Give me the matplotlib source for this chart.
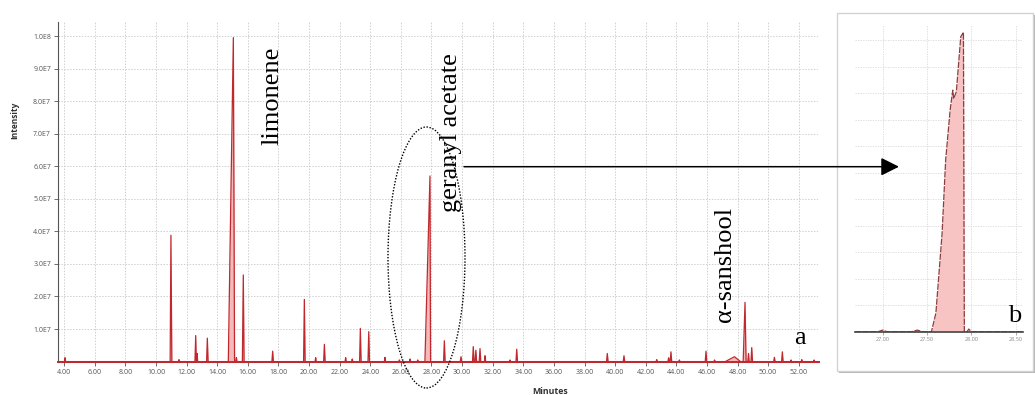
import numpy as np
import matplotlib.pyplot as plt
from matplotlib.patches import Ellipse, Rectangle, FancyArrowPatch

# peak table of the chromatogram (intensity in units of 1E7)
peak_rt = [4.05, 10.97, 11.50, 12.59, 12.68, 13.35, 15.05, 15.25, 15.70, 17.62,
           19.69, 20.43, 21.00, 22.39, 22.82, 23.35, 23.90, 24.96, 25.90, 26.60,
           27.10, 27.90, 28.84, 29.93, 30.73, 30.90, 31.17, 31.50, 33.13, 33.57,
           39.49, 40.58, 42.72, 43.50, 43.65, 44.20, 45.94, 46.50, 47.80, 48.49,
           48.72, 48.93, 50.41, 50.93, 51.50, 52.20, 53.00]
peak_height = [0.12, 3.88, 0.06, 0.80, 0.25, 0.72, 9.95, 0.12, 2.66, 0.32,
               1.91, 0.12, 0.53, 0.12, 0.08, 1.02, 0.92, 0.13, 0.05, 0.08,
               0.05, 5.70, 0.64, 0.15, 0.46, 0.35, 0.40, 0.18, 0.05, 0.38,
               0.25, 0.18, 0.06, 0.12, 0.30, 0.05, 0.32, 0.05, 0.15, 1.82,
               0.25, 0.43, 0.13, 0.30, 0.05, 0.06, 0.05]
peak_left = [0.04, 0.05, 0.04, 0.05, 0.03, 0.05, 0.33, 0.04, 0.06, 0.05,
             0.05, 0.04, 0.05, 0.04, 0.04, 0.05, 0.05, 0.04, 0.04, 0.04,
             0.04, 0.33, 0.05, 0.05, 0.05, 0.05, 0.05, 0.04, 0.04, 0.05,
             0.05, 0.05, 0.04, 0.05, 0.05, 0.04, 0.05, 0.04, 0.60, 0.12,
             0.05, 0.05, 0.05, 0.05, 0.04, 0.04, 0.04]
peak_right = [0.04, 0.06, 0.04, 0.04, 0.04, 0.05, 0.08, 0.04, 0.05, 0.05,
              0.05, 0.04, 0.05, 0.04, 0.04, 0.05, 0.05, 0.04, 0.04, 0.04,
              0.04, 0.04, 0.05, 0.05, 0.05, 0.05, 0.05, 0.04, 0.04, 0.05,
              0.05, 0.05, 0.04, 0.05, 0.05, 0.04, 0.05, 0.04, 0.40, 0.07,
              0.04, 0.05, 0.05, 0.05, 0.04, 0.04, 0.04]

y_ticks = [1, 2, 3, 4, 5, 6, 7, 8, 9, 10]
y_labels = ["1.0E7", "2.0E7", "3.0E7", "4.0E7", "5.0E7", "6.0E7",
            "7.0E7", "8.0E7", "9.0E7", "1.0E8"]
x_ticks = list(range(4, 53, 2))

# zoomed view of the geranyl acetate peak
inset_t = [26.69, 26.95, 27.00, 27.05, 27.33, 27.39, 27.45, 27.55, 27.60, 27.67,
           27.71, 27.76, 27.79, 27.80, 27.83, 27.88, 27.91, 27.92, 27.95, 27.97,
           28.00, 28.58]
inset_i = [0, 0, 0.03, 0, 0, 0.03, 0, 0, 0.35, 1.86,
           3.24, 4.18, 4.56, 4.40, 4.53, 5.57, 5.65, 0, 0, 0.05,
           0, 0]
inset_ticks = [27.0, 27.5, 28.0, 28.5]
inset_labels = ["27.00", "27.50", "28.00", "28.50"]

labels = ["limonene", "geranyl acetate", "\u03b1-sanshool"]

W, H = 1035, 395
fig = plt.figure(figsize=(W / 100, H / 100), dpi=100)


def fx(x):
    return x / W


def fy(y):
    return 1 - y / H


line_red = "#c0282e"
fill_pink = "#f4b9b9"

# main chromatogram
ax = fig.add_axes([fx(58), fy(361.6), fx(818 - 58), (361.6 - 22) / H])
t = [3.6]
inten = [0.0]
for rt, h, wl, wr in zip(peak_rt, peak_height, peak_left, peak_right):
    t += [rt - wl, rt, rt + wr]
    inten += [0.0, h, 0.0]
t.append(53.3)
inten.append(0.0)
ax.fill_between(t, 0, inten, color=fill_pink, lw=0)
ax.plot(t, inten, color=line_red, lw=0.9, clip_on=False, zorder=3)
ax.plot([3.6, 53.3], [0, 0], color=line_red, lw=1.4, clip_on=False, zorder=3)

ax.set_xlim(3.59, 53.26)
ax.set_ylim(0, 10.43)
ax.set_xticks(x_ticks)
ax.set_xticklabels([f"{v:.2f}" for v in x_ticks])
ax.set_yticks(y_ticks)
ax.set_yticklabels(y_labels)
for s in ["top", "right"]:
    ax.spines[s].set_visible(False)
ax.spines["left"].set_color("#555555")
ax.spines["left"].set_linewidth(0.8)
ax.spines["bottom"].set_color("#888888")
ax.tick_params(axis="both", labelsize=5, colors="#555555", length=3, width=0.6, pad=2,
               labelfontfamily="Open Sans")
ax.grid(True, color="#cfcfcf", ls=(0, (1.5, 1.5)), lw=0.7)
ax.set_axisbelow(True)

fig.text(fx(15), fy(120), "Intensity", rotation=90, ha="center", va="center",
         fontsize=6, fontweight="bold", family="Open Sans", color="#333333")
fig.text(fx(550), fy(391), "Minutes", ha="center", va="center",
         fontsize=6.3, fontweight="bold", family="Open Sans", color="#333333")

serif = "Liberation Serif"
fig.text(fx(278), fy(145), labels[0], rotation=90, rotation_mode="anchor",
         ha="left", va="baseline", fontsize=19, family=serif)
fig.text(fx(456.5), fy(211.5), labels[1], rotation=90, rotation_mode="anchor",
         ha="left", va="baseline", fontsize=19, family=serif)
fig.text(fx(731), fy(321.5), labels[2], rotation=90, rotation_mode="anchor",
         ha="left", va="baseline", fontsize=19, family=serif)
fig.text(fx(794), fy(343.5), "a", ha="left", va="baseline", fontsize=19, family=serif)

# dotted ellipse around the geranyl acetate peak
fig.patches.append(Ellipse((fx(426.5), fy(257.5)), fx(77), 261 / H,
                           transform=fig.transFigure, fill=False, ec="black",
                           ls=(0, (1, 1.2)), lw=1.0, zorder=5))

# inset panel frame
fig.patches.append(Rectangle((fx(839), fy(373)), fx(197), 358 / H,
                             transform=fig.transFigure, fc="#b5b5b5", ec="none", zorder=1))
fig.patches.append(Rectangle((fx(837), fy(371)), fx(196), 358 / H,
                             transform=fig.transFigure, fc="white", ec="#d2d2d2",
                             lw=1.0, zorder=1))

axi = fig.add_axes([fx(855), fy(331.7), fx(1023 - 855), (331.7 - 25) / H])
axi.set_zorder(2)
axi.fill_between(inset_t, 0, inset_i, color="#f8c3c3", lw=0)
axi.plot(inset_t, inset_i, color="#8c3c3c", lw=0.9, ls=(0, (5, 1)))
axi.axhline(0, color="#444444", lw=1.2, clip_on=False)
axi.set_xlim(26.69, 28.58)
axi.set_ylim(0, 5.79)
axi.set_xticks(inset_ticks)
axi.set_xticklabels(inset_labels)
axi.set_yticks(np.arange(0.5, 5.6, 0.5))
axi.tick_params(axis="y", left=False, labelleft=False)
axi.tick_params(axis="x", labelsize=4, colors="#888888", length=2, width=0.5, pad=2,
                labelfontfamily="Open Sans")
for s in ["top", "right", "left", "bottom"]:
    axi.spines[s].set_visible(False)
axi.grid(True, color="#d8d8d8", ls=(0, (1.5, 1.5)), lw=0.6)
axi.set_axisbelow(True)
axi.patch.set_alpha(0)

fig.text(fx(1008), fy(321.7), "b", ha="left", va="baseline", fontsize=19,
         family=serif, zorder=6)

# arrow from the ellipse to the zoom panel
fig.patches.append(FancyArrowPatch((fx(464), fy(166.7)), (fx(899), fy(166.7)),
                                   transform=fig.transFigure,
                                   arrowstyle="-|>,head_length=1.1,head_width=0.55",
                                   mutation_scale=10, color="black", lw=1.1,
                                   shrinkA=0, shrinkB=0, zorder=7))

fig.savefig("out.png", dpi=100)
